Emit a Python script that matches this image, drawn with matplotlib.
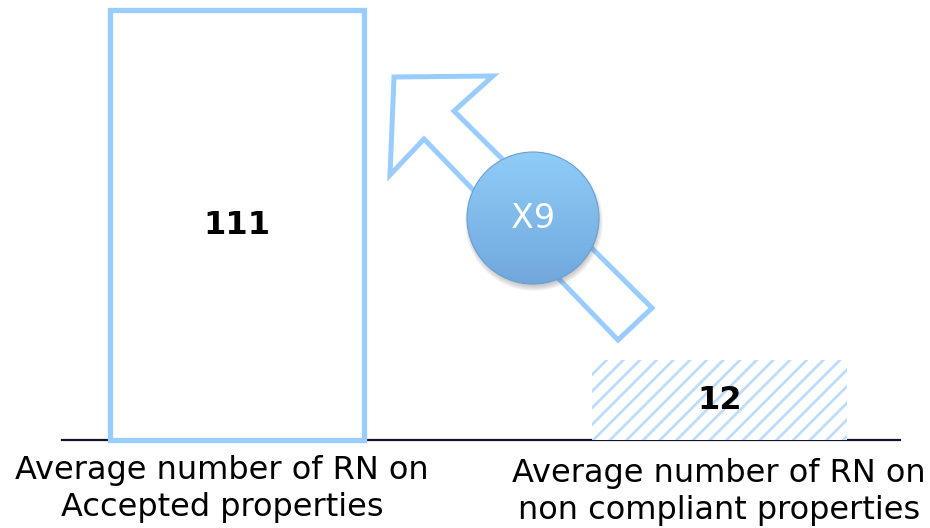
"""
Average number of RN: accepted vs non compliant properties
"""

import numpy as np
import matplotlib
matplotlib.use('Agg')
from matplotlib import pyplot as plt
from matplotlib.patches import Polygon, Circle


# data
categories = ['Average number of RN on\nAccepted properties',
              'Average number of RN on\nnon compliant properties']
values = [111, 12]
value_labels = ['111', '12']
ratio_label = 'X9'

LIGHT_BLUE = '#99CCFF'
POW = 0.756  # compressed y scale so the small bar stays readable

plt.rcParams['font.family'] = ['DejaVu Sans']
plt.rcParams['hatch.linewidth'] = 2.0


def fwd(y):
    y = np.asarray(y, dtype=float)
    return np.sign(y) * np.abs(y) ** POW


def inv(y):
    y = np.asarray(y, dtype=float)
    return np.sign(y) * np.abs(y) ** (1.0 / POW)


W, H = 930, 528
fig = plt.figure(figsize=(W / 100, H / 100), dpi=100)

# bar axes, baseline at 440px from top, top of tallest bar at 10px
ax = fig.add_axes([62 / W, 1 - 440 / H, 838 / W, 430 / H])
ax.set_yscale('function', functions=(fwd, inv))
ax.set_ylim(0, max(values))
ax.set_xlim(-0.3627, 1.374)

x = np.arange(len(values))
bw = 0.527
ax.bar(x[0], values[0], width=bw, facecolor='white', edgecolor=LIGHT_BLUE,
       linewidth=3.8, clip_on=False, zorder=3)
ax.bar(x[1], values[1], width=bw, facecolor='white', edgecolor='#BCDDFF',
       hatch='//', linewidth=0, clip_on=False, zorder=3)

for xi, v, lab in zip(x, values, value_labels):
    ymid = inv(fwd(v) / 2)
    ax.text(xi, ymid, lab, ha='center', va='center', fontsize=23,
            fontweight='bold', color='black', zorder=5)

for s in ['top', 'right', 'left']:
    ax.spines[s].set_visible(False)
ax.spines['bottom'].set_color('#141428')
ax.spines['bottom'].set_linewidth(1.6)
ax.set_xticks([])
ax.set_yticks([])
ax.minorticks_off()
ax.patch.set_alpha(0)

# overlay in pixel coords for the arrow, badge and category labels
ov = fig.add_axes([0, 0, 1, 1], zorder=5)
ov.set_xlim(0, W)
ov.set_ylim(H, 0)
ov.axis('off')
ov.patch.set_alpha(0)

arrow_pts = [(394, 77), (493, 76), (454, 111), (652, 308),
             (618, 340), (424, 139), (390, 175)]
ov.add_patch(Polygon(arrow_pts, closed=True, facecolor='white',
                     edgecolor=LIGHT_BLUE, linewidth=3.6, joinstyle='miter'))

cx, cy, r = 533, 218, 66
# soft shadow
for k in range(6):
    ov.add_patch(Circle((cx + 1, cy + 4), r + 3 - k, facecolor='#404040',
                        edgecolor='none', alpha=0.05))
badge = Circle((cx, cy), r, facecolor='none', edgecolor='#6A9ED0',
               linewidth=0.8)
ov.add_patch(badge)
top = np.array([0x90, 0xCC, 0xF8]) / 255
bot = np.array([0x70, 0xA8, 0xDC]) / 255
t = np.linspace(0, 1, 200)[:, None, None]
grad = top * (1 - t) + bot * t
grad = np.repeat(grad, 2, axis=1)
im = ov.imshow(grad, extent=(cx - r, cx + r, cy + r, cy - r),
               aspect='auto', interpolation='bilinear', zorder=2)
im.set_clip_path(badge)
badge.set_zorder(3)
ov.set_xlim(0, W)
ov.set_ylim(H, 0)
ov.text(cx, cy + 1, ratio_label, ha='center', va='center', fontsize=24,
        color='white', zorder=4)

label_x = [222, 719]
label_y = [489, 492]
for lx, ly, lab in zip(label_x, label_y, categories):
    ov.text(lx, ly, lab, ha='center', va='center', fontsize=23,
            color='black', linespacing=1.25)

fig.savefig('out.png', dpi=100)
